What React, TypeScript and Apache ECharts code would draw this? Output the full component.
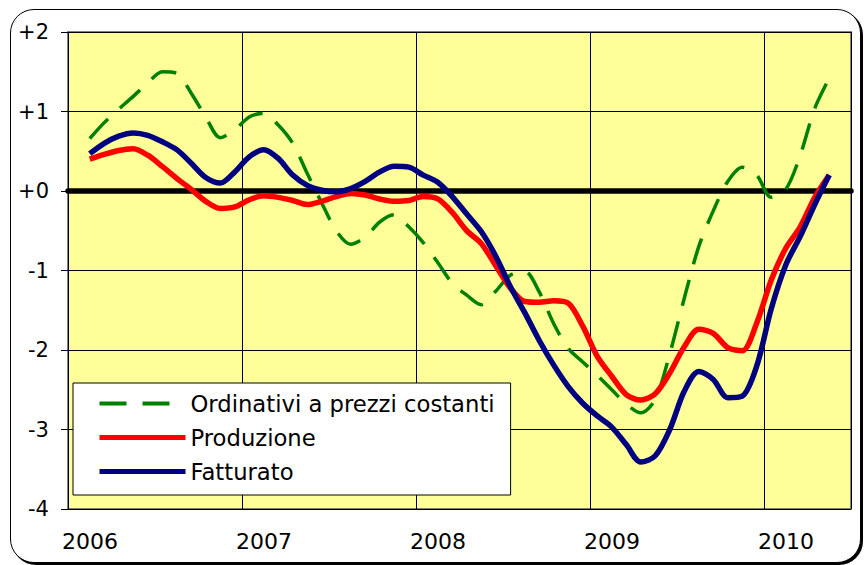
import React, { useEffect, useRef } from "react";
import * as echarts from "echarts";

// Monthly observations, Feb 2006 .. May 2010 (plotted at mid-month)
const months: string[] = [];
for (let y = 2006; y <= 2010; y++) {
  for (let m = 1; m <= 12; m++) {
    if ((y === 2006 && m < 2) || (y === 2010 && m > 5)) continue;
    months.push(`${y}-${String(m).padStart(2, "0")}`);
  }
}

const ordinativi = [
  0.66, 0.86, 1.03, 1.19, 1.36, 1.5, 1.48, 1.23, 0.93, 0.67, 0.77,
  0.93, 0.98, 0.83, 0.6, 0.22, -0.15, -0.5, -0.67, -0.58, -0.39, -0.3, -0.45,
  -0.65, -0.9, -1.16, -1.31, -1.43, -1.26, -1.06, -1.01, -1.27, -1.67, -1.98, -2.15,
  -2.32, -2.5, -2.68, -2.79, -2.62, -2.05, -1.35, -0.7, -0.25, 0.12, 0.3, 0.2,
  -0.08, 0.02, 0.45, 1.04, 1.42,
];

const produzione = [
  0.4, 0.46, 0.51, 0.53, 0.45, 0.31, 0.16, 0.02, -0.13, -0.22, -0.2,
  -0.11, -0.06, -0.08, -0.12, -0.17, -0.13, -0.07, -0.03, -0.05, -0.1, -0.13, -0.12,
  -0.07, -0.1, -0.27, -0.5, -0.66, -0.94, -1.22, -1.39, -1.4, -1.38, -1.41, -1.7,
  -2.08, -2.33, -2.56, -2.63, -2.55, -2.29, -1.96, -1.74, -1.79, -1.97, -2.01, -1.66,
  -1.12, -0.72, -0.45, -0.08, 0.2,
];

const fatturato = [
  0.47, 0.6, 0.69, 0.73, 0.7, 0.62, 0.52, 0.35, 0.17, 0.1, 0.24,
  0.43, 0.52, 0.41, 0.2, 0.07, 0.01, -0.01, 0.03, 0.12, 0.24, 0.31, 0.3,
  0.2, 0.11, -0.07, -0.29, -0.51, -0.82, -1.2, -1.53, -1.88, -2.19, -2.46, -2.67,
  -2.83, -2.97, -3.19, -3.41, -3.33, -3.0, -2.52, -2.27, -2.37, -2.6, -2.58, -2.2,
  -1.48, -0.93, -0.57, -0.17, 0.2,
];

const yearTicks = ["2006", "2007", "2008", "2009", "2010"];
const X_MIN = 2006;
const X_MAX = 2010.5;
const Y_MIN = -4;
const Y_MAX = 2;

const FONT = "DejaVu Sans";

function toX(label: string): number {
  const [y, m] = label.split("-").map(Number);
  return y + (m - 0.5) / 12;
}

function pairs(values: number[]): [number, number][] {
  return values.map((v, i) => [toX(months[i]), v]);
}

export default function App() {
  const ref = useRef<HTMLDivElement>(null);

  useEffect(() => {
    if (!ref.current) return;
    const chart = echarts.init(ref.current, undefined, { renderer: "svg" });
    chart.setOption({
      animation: false,
      grid: {
        left: 68,
        top: 32,
        right: 13,
        bottom: 56,
        show: true,
        backgroundColor: "#FFFF99",
        borderColor: "#808080",
        borderWidth: 2,
      },
      legend: {
        orient: "vertical",
        left: 73,
        top: 383,
        data: [
          { name: "Ordinativi a prezzi costanti", lineStyle: { width: 4 } },
          { name: "Produzione", lineStyle: { width: 5 } },
          { name: "Fatturato", lineStyle: { width: 5 } },
        ],
        backgroundColor: "#FFFFFF",
        borderColor: "#000000",
        borderWidth: 1,
        borderRadius: 0,
        padding: [9, 16, 12, 24],
        itemGap: 11,
        itemWidth: 86,
        itemHeight: 14,
        itemStyle: { opacity: 0 },
        textStyle: { fontFamily: FONT, fontSize: 22.7, color: "#000" },
        selectedMode: false,
      },
      xAxis: {
        type: "value",
        min: X_MIN,
        max: X_MAX,
        interval: 1,
        axisLine: { show: false },
        axisTick: { show: false },
        splitLine: { show: true, lineStyle: { color: "#000", width: 1 } },
        axisLabel: {
          showMaxLabel: false,
          margin: 21,
          fontFamily: FONT,
          fontSize: 22,
          color: "#000",
          padding: [0, 0, 0, 44],
          formatter: (v: number) => {
            const s = String(Math.round(v));
            return Number.isInteger(v) && yearTicks.includes(s) ? s : "";
          },
        },
      },
      yAxis: {
        type: "value",
        min: Y_MIN,
        max: Y_MAX,
        interval: 1,
        axisLine: { show: false },
        axisTick: { show: true, length: 7, lineStyle: { color: "#000", width: 1 } },
        splitLine: { show: true, lineStyle: { color: "#000", width: 1 } },
        axisLabel: {
          margin: 19,
          fontFamily: FONT,
          fontSize: 21,
          color: "#000",
          formatter: (v: number) => (v >= 0 ? "+" + v : String(v)),
        },
      },
      series: [
        {
          name: "zero",
          type: "line",
          data: [
            [X_MIN, 0],
            [X_MAX, 0],
          ],
          symbol: "none",
          silent: true,
          z: 1,
          lineStyle: { color: "#000", width: 5.5, cap: "round" },
        },
        {
          name: "Ordinativi a prezzi costanti",
          type: "line",
          data: pairs(ordinativi),
          symbol: "none",
          smooth: 0.3,
          z: 2,
          itemStyle: { color: "#008000" },
          lineStyle: { color: "#008000", width: 3.5, type: [27, 16] },
        },
        {
          name: "Produzione",
          type: "line",
          data: pairs(produzione),
          symbol: "none",
          smooth: 0.3,
          z: 3,
          itemStyle: { color: "#FF0000" },
          lineStyle: { color: "#FF0000", width: 5.5 },
        },
        {
          name: "Fatturato",
          type: "line",
          data: pairs(fatturato),
          symbol: "none",
          smooth: 0.3,
          z: 4,
          itemStyle: { color: "#000080" },
          lineStyle: { color: "#000080", width: 5.5 },
        },
      ],
    });
    return () => chart.dispose();
  }, []);

  return (
    <div
      style={{
        position: "absolute",
        left: 0,
        top: 0,
        width: 864,
        height: 565,
        background: "#fff",
        overflow: "hidden",
      }}
    >
      <div
        style={{
          position: "absolute",
          left: 10,
          top: 9,
          width: 849,
          height: 552,
          border: "1.5px solid #000",
          borderRadius: 24,
          boxShadow: "2px 2px 0 #000",
          background: "#fff",
        }}
      />
      <div
        ref={ref}
        style={{ position: "absolute", left: 0, top: 0, width: 864, height: 565 }}
      />
    </div>
  );
}
